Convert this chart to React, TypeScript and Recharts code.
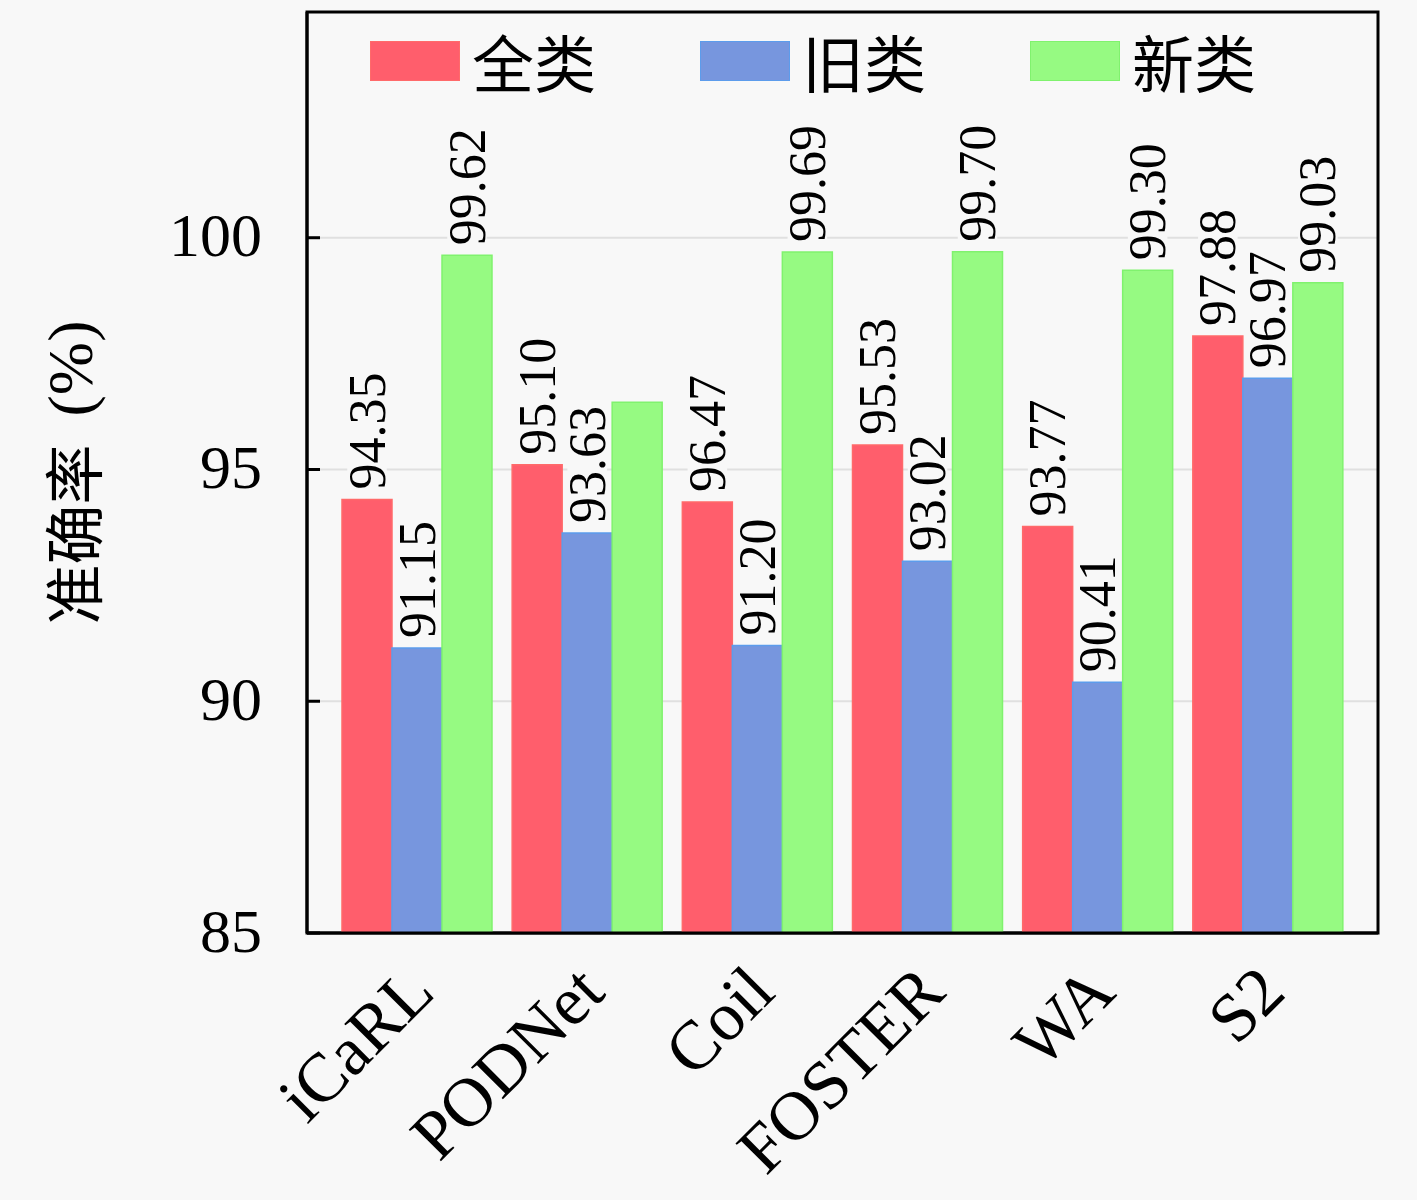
import { BarChart, Bar, XAxis, YAxis, CartesianGrid, Legend, LabelList, Label, ReferenceArea } from "recharts";

const categories = ["iCaRL", "PODNet", "Coil", "FOSTER", "WA", "S2"];
const seriesNames = ["全类", "旧类", "新类"];
const allValues = [94.35, 95.1, 94.3, 95.53, 93.77, 97.88];
const oldValues = [91.15, 93.63, 91.2, 93.02, 90.41, 96.97];
const newValues = [99.62, 96.45, 99.69, 99.7, 99.3, 99.03];
const allLabels = ["94.35", "95.10", "96.47", "95.53", "93.77", "97.88"];
const oldLabels = ["91.15", "93.63", "91.20", "93.02", "90.41", "96.97"];
const newLabels = ["99.62", "", "99.69", "99.70", "99.30", "99.03"];
const yTicks = [85, 90, 95, 100];
const yDomain = [85, 104.87];

const BG = "#f8f8f8";
const SERIF = "'Liberation Serif', 'DejaVu Serif', serif";
const CJK_FONT = "'Noto Sans CJK SC', sans-serif";

const data = categories.map((name, i) => ({
  name,
  all: allValues[i],
  old: oldValues[i],
  new: newValues[i],
  allLabel: allLabels[i],
  oldLabel: oldLabels[i],
  newLabel: newLabels[i],
}));

const LABEL_SIZE = 52;

function BarLabel(props: any) {
  const { x, y, width, value } = props;
  if (!value) return null;
  const cx = x + width / 2;
  const by = y - 10;
  const len = String(value).length * LABEL_SIZE * 0.47;
  return (
    <g transform={`translate(${cx}, ${by}) rotate(-90)`}>
      <rect x={-2} y={-LABEL_SIZE * 0.38} width={len + 4} height={LABEL_SIZE * 0.76} fill={BG} />
      <text x={0} y={0} dominantBaseline="central" textAnchor="start" style={{ fontFamily: SERIF, fontSize: LABEL_SIZE }} fill="#000">
        {value}
      </text>
    </g>
  );
}

function YTick(props: any) {
  const { x, y, payload } = props;
  return (
    <g>
      <line x1={x + 45} x2={x + 58} y1={y} y2={y} stroke="#000" strokeWidth={3} />
      <text x={x} y={y} dy="0.3em" textAnchor="end" style={{ fontFamily: SERIF, fontSize: 62 }} fill="#000">
        {payload.value}
      </text>
    </g>
  );
}

function XTick(props: any) {
  const { x, y, payload } = props;
  return (
    <text
      transform={`translate(${x + 20}, ${y + 60}) rotate(-45)`}
      textAnchor="end"
      style={{ fontFamily: SERIF, fontSize: 69 }}
      fill="#000"
    >
      {payload.value}
    </text>
  );
}

function YLabel(props: any) {
  const { viewBox } = props;
  const cx = viewBox.x + 70;
  const cy = viewBox.y + viewBox.height / 2;
  return (
    <text
      transform={`translate(${cx}, ${cy}) rotate(-90)`}
      textAnchor="middle"
      dominantBaseline="central"
      fill="#000"
    >
      <tspan style={{ fontFamily: CJK_FONT, fontSize: 60 }}>准确率</tspan>
      <tspan dx={28} style={{ fontFamily: SERIF, fontSize: 64 }}>(%)</tspan>
    </text>
  );
}

function LegendContent(props: any) {
  const payload = [...(props.payload || [])].sort(
    (a: any, b: any) => seriesNames.indexOf(a.value) - seriesNames.indexOf(b.value)
  );
  return (
    <div style={{ display: "flex", alignItems: "center", gap: 104 }}>
      {payload.map((entry: any) => (
        <div key={entry.value} style={{ display: "flex", alignItems: "center", gap: 12 }}>
          <div style={{ width: 88, height: 38, background: entry.color, border: `1px solid ${entry.payload.stroke}` }} />
          <span style={{ fontFamily: CJK_FONT, fontSize: 62, lineHeight: "62px", color: "#000" }}>
            {entry.value}
          </span>
        </div>
      ))}
    </div>
  );
}

export default function App() {
  return (
    <div style={{ width: 1417, height: 1200, background: BG }}>
      <style>{`body{margin:0;background:${BG};}`}</style>
      <BarChart
        width={1417}
        height={1200}
        data={data}
        margin={{ top: 12, right: 39, bottom: 0, left: 0 }}
        barCategoryGap={10}
        barGap={0}
      >
        <CartesianGrid vertical={false} stroke="#e0e0e0" strokeWidth={2} />
        <XAxis
          dataKey="name"
          height={267}
          padding={{ left: 25, right: 25 }}
          stroke="#000"
          axisLine={{ stroke: "#000", strokeWidth: 3 }}
          tickLine={false}
          tickSize={0}
          tick={<XTick />}
          interval={0}
        />
        <XAxis xAxisId="frame" dataKey="name" orientation="top" height={0} hide />
        <YAxis
          width={307}
          domain={yDomain}
          ticks={yTicks}
          allowDataOverflow
          stroke="#000"
          axisLine={{ stroke: "#000", strokeWidth: 3 }}
          tickLine={false}
          tickSize={0}
          tickMargin={45}
          tick={<YTick />}
        >
          <Label content={<YLabel />} />
        </YAxis>
        <Legend
          layout="horizontal"
          verticalAlign="middle"
          align="center"
          wrapperStyle={{ top: 30, left: 370, width: "auto" }}
          content={<LegendContent />}
        />
        <Bar dataKey="all" name={seriesNames[0]} fill="#ff5e6c" stroke="#ff6a6a" strokeWidth={1.5} isAnimationActive={false}>
          <LabelList dataKey="allLabel" content={<BarLabel />} />
        </Bar>
        <Bar dataKey="old" name={seriesNames[1]} fill="#7796de" stroke="#5c9cec" strokeWidth={1.5} isAnimationActive={false}>
          <LabelList dataKey="oldLabel" content={<BarLabel />} />
        </Bar>
        <Bar dataKey="new" name={seriesNames[2]} fill="#96fa82" stroke="#80f26e" strokeWidth={1.5} isAnimationActive={false}>
          <LabelList dataKey="newLabel" content={<BarLabel />} />
        </Bar>
        <ReferenceArea
          xAxisId="frame"
          x1={categories[0]}
          x2={categories[categories.length - 1]}
          y1={yDomain[0]}
          y2={yDomain[1]}
          fill="none"
          stroke="#000"
          strokeWidth={3}
          ifOverflow="visible"
        />
      </BarChart>
    </div>
  );
}
